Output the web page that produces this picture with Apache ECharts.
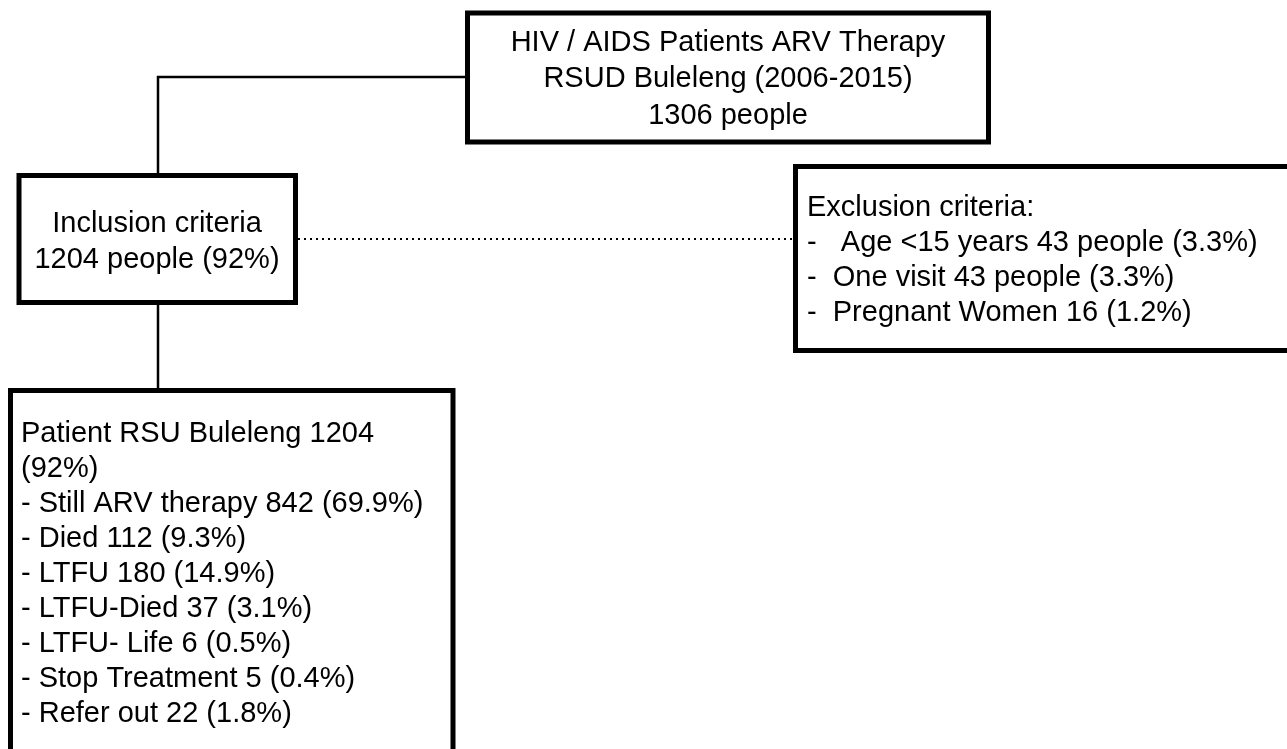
<!DOCTYPE html>
<html>
<head>
<meta charset="utf-8">
<title>HIV / AIDS ARV Therapy flowchart</title>
<script src="https://cdn.jsdelivr.net/npm/echarts@6/dist/echarts.min.js"></script>
<style>
    html, body { margin: 0; padding: 0; background: #ffffff; }
    #flowChart { width: 1287px; height: 749px; }
</style>
</head>
<body>
<div id="flowChart"></div>
<script>
// chart data
var titleLines = ['HIV / AIDS Patients ARV Therapy', 'RSUD Buleleng (2006-2015)'];
var totalPatients = 1306;
var includedCount = 1204;
var includedPct = '92%';

var exclusionLabels = [' Age <15 years', 'One visit', 'Pregnant Women'];
var exclusionCounts = [43, 43, 16];
var exclusionUnits = [' people', ' people', ''];
var exclusionPcts = ['3.3%', '3.3%', '1.2%'];

var outcomeLabels = ['Still ARV therapy', 'Died', 'LTFU', 'LTFU-Died', 'LTFU- Life', 'Stop Treatment', 'Refer out'];
var outcomeCounts = [842, 112, 180, 37, 6, 5, 22];
var outcomePcts = ['69.9%', '9.3%', '14.9%', '3.1%', '0.5%', '0.4%', '1.8%'];

// box texts built from the data
var totalText = titleLines.concat([totalPatients + ' people']).join('\n');
var inclusionText = 'Inclusion criteria\n' + includedCount + ' people (' + includedPct + ')';
var exclusionText = ['Exclusion criteria:'].concat(exclusionLabels.map(function (l, i) {
    return '-  ' + l + ' ' + exclusionCounts[i] + exclusionUnits[i] + ' (' + exclusionPcts[i] + ')';
})).join('\n');
var patientText = ['Patient RSU Buleleng ' + includedCount, '(' + includedPct + ')'].concat(outcomeLabels.map(function (l, i) {
    return '- ' + l + ' ' + outcomeCounts[i] + ' (' + outcomePcts[i] + ')';
})).join('\n');

// layout (page units, y grows downward)
var boxTexts = [totalText, inclusionText, exclusionText, patientText];
var boxLayout = [
    { rect: [467.5, 13, 988.5, 142], align: 'center', tx: 728, ty: 24.25, lh: 36.5 },
    { rect: [19, 175.5, 295.5, 302.5], align: 'center', tx: 157, ty: 205.5, lh: 36 },
    { rect: [795.5, 166.5, 1292, 350.5], align: 'left', tx: 807, ty: 190, lh: 35 },
    { rect: [10.5, 390.5, 453, 760], align: 'left', tx: 21, ty: 416, lh: 35 }
];
var connectors = [
    [[467, 77], [158, 77], [158, 175]],
    [[158, 302], [158, 390]]
];
var dottedLinks = [
    [[298, 239], [793, 239]]
];

var font = '29px "Liberation Sans", Arial, sans-serif';

var chartDom = document.getElementById('flowChart');
var myChart = echarts.init(chartDom);
var option;

option = {
    animation: false,
    grid: { left: 0, right: 0, top: 0, bottom: 0 },
    xAxis: { type: 'value', min: 0, max: 1287, show: false },
    yAxis: { type: 'value', min: 0, max: 749, inverse: true, show: false },
    series: [
        {
            type: 'lines',
            coordinateSystem: 'cartesian2d',
            polyline: true,
            silent: true,
            z: 1,
            lineStyle: { color: '#000', width: 2.5, opacity: 1 },
            data: connectors.map(function (c) { return { coords: c }; })
        },
        {
            type: 'lines',
            coordinateSystem: 'cartesian2d',
            polyline: true,
            silent: true,
            z: 1,
            lineStyle: { color: '#000', width: 2, type: [2, 4], opacity: 1 },
            data: dottedLinks.map(function (c) { return { coords: c }; })
        },
        {
            type: 'custom',
            silent: true,
            z: 2,
            data: boxLayout.map(function (b) { return b.rect; }),
            renderItem: function (params, api) {
                var b = boxLayout[params.dataIndex];
                var p1 = api.coord([api.value(0), api.value(1)]);
                var p2 = api.coord([api.value(2), api.value(3)]);
                var t = api.coord([b.tx, b.ty]);
                return {
                    type: 'group',
                    children: [
                        {
                            type: 'rect',
                            shape: { x: p1[0], y: p1[1], width: p2[0] - p1[0], height: p2[1] - p1[1] },
                            style: { fill: '#fff', stroke: '#000', lineWidth: 5 }
                        },
                        {
                            type: 'text',
                            style: {
                                text: boxTexts[params.dataIndex],
                                x: t[0],
                                y: t[1],
                                font: font,
                                fill: '#000',
                                align: b.align,
                                verticalAlign: 'top',
                                lineHeight: b.lh
                            }
                        }
                    ]
                };
            }
        }
    ]
};

option && myChart.setOption(option);
</script>
</body>
</html>
